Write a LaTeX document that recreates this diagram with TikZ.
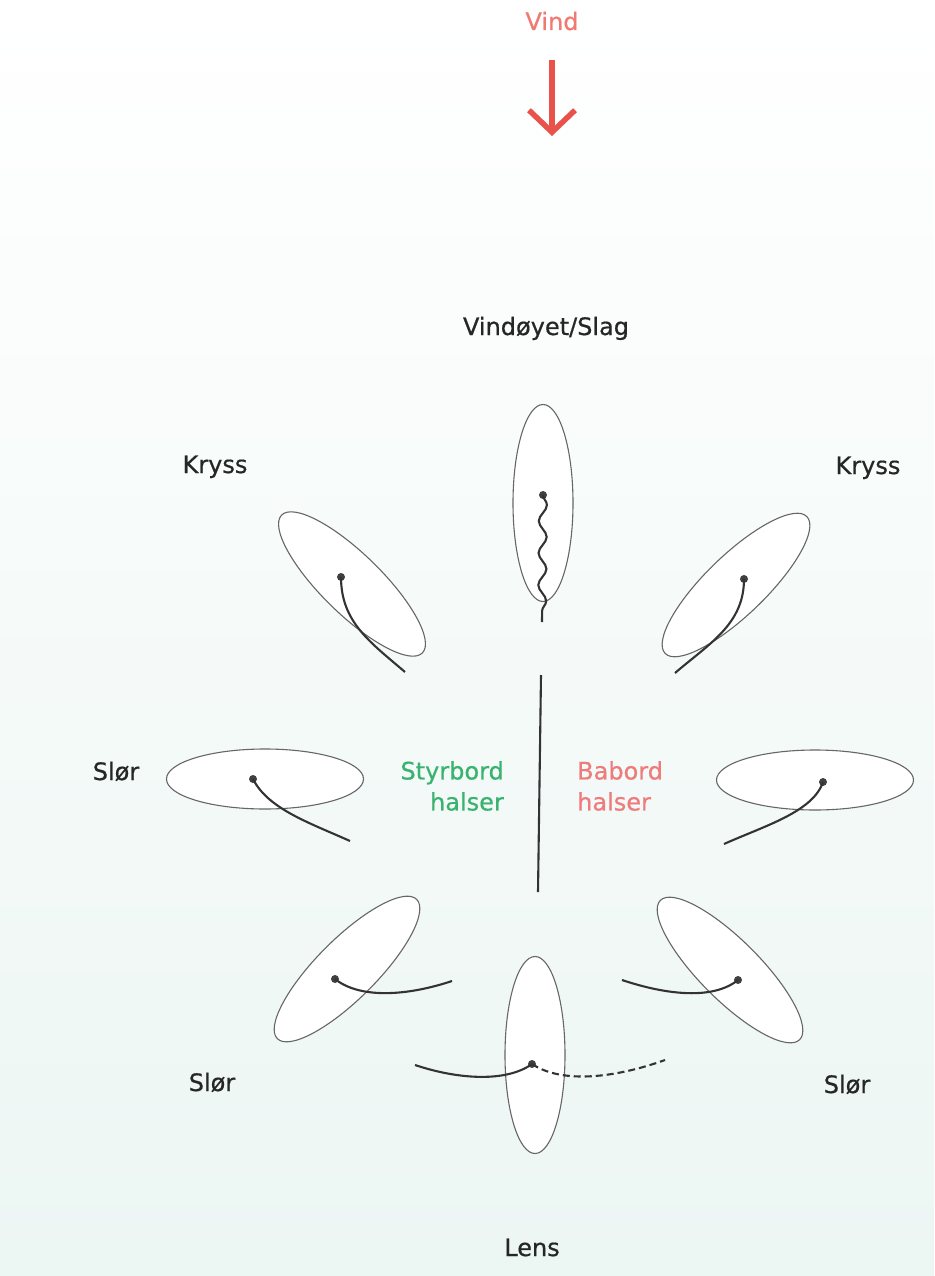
\documentclass[tikz,border=0pt]{standalone}
\usepackage{fontspec}
\setmainfont{DejaVu Sans}[UprightFeatures={FakeBold=0.6}]
\usepackage{xcolor}
\usetikzlibrary{arrows.meta, shapes.geometric, decorations.pathmorphing}

\definecolor{vindrod}{RGB}{232,82,74}
\definecolor{vindtekst}{RGB}{240,122,114}
\definecolor{styrbordgronn}{RGB}{58,178,112}
\definecolor{babordrod}{RGB}{238,124,124}
\definecolor{bakgrunn}{RGB}{236,246,243}

\begin{document}
\begin{tikzpicture}[
        x=1pt, y=-1pt,
        every node/.style={
            font=\fontsize{24}{31}\selectfont,
            inner sep=0pt
        },
        brett/.style={
            ellipse,
            draw=black!60,
            fill=white,
            line width=1.1pt,
            minimum width=197pt,
            minimum height=60pt
        },
        punkt/.style={
            circle,
            fill=black!75,
            minimum size=8pt
        },
        seil/.style={
            line width=2.1pt,
            draw=black!80
        },
        etikett/.style={
            anchor=base,
            text=black!85
        },
        vindpil/.style={
            -{Straight Barb[length=22pt,width=46pt]},
            line width=5.5pt,
            draw=vindrod
        }
    ]

    \fill[top color=white, bottom color=bakgrunn] (0,0) rectangle (934,1276);

    % vind
    \node[etikett, text=vindtekst] (vind) at (552,30) {Vind};
    \coordinate (vindfra) at (552,60);
    \coordinate (vindtil) at (552,136);
    \draw[vindpil] (vindfra) -- (vindtil);

    % brett
    \node[brett, rotate=90] (slag) at (543,503) {};
    \node[brett, rotate=-44.4] (krysssb) at (352,584) {};
    \node[brett, rotate=44] (kryssbb) at (736,585) {};
    \node[brett] (slorsb) at (265,779) {};
    \node[brett] (slorbb) at (815,780) {};
    \node[brett, rotate=45] (brlsb) at (347,969) {};
    \node[brett, rotate=-45] (brlbb) at (730,970) {};
    \node[brett, rotate=90] (lens) at (535,1055) {};

    % mast
    \node[punkt] (pslag) at (543,495) {};
    \node[punkt] (pkrysssb) at (341,577) {};
    \node[punkt] (pkryssbb) at (744,579) {};
    \node[punkt] (pslorsb) at (253,779) {};
    \node[punkt] (pslorbb) at (823,782) {};
    \node[punkt] (pbrlsb) at (335,979) {};
    \node[punkt] (pbrlbb) at (738,980) {};
    \node[punkt] (plens) at (532,1064) {};

    \coordinate (eslag) at (542,622);
    \coordinate (ekrysssb) at (405,672);
    \coordinate (ekryssbb) at (675,673);
    \coordinate (eslorsb) at (350,841);
    \coordinate (eslorbb) at (724,844);
    \coordinate (ebrlsb) at (452,981);
    \coordinate (ebrlbb) at (622,980);
    \coordinate (elenssb) at (415,1065);
    \coordinate (elensbb) at (665,1060);

    % seil
    \draw[seil, decorate, decoration={snake, segment length=32pt, amplitude=4pt}]
        (pslag.center) -- (eslag);
    \draw[seil] (pkrysssb.center) .. controls +(0,45) and +(-35,-30) .. (ekrysssb);
    \draw[seil] (pkryssbb.center) .. controls +(0,45) and +(35,-30) .. (ekryssbb);
    \draw[seil] (pslorsb.center) .. controls +(15,30) and +(-40,-18) .. (eslorsb);
    \draw[seil] (pslorbb.center) .. controls +(-10,30) and +(40,-18) .. (eslorbb);
    \draw[seil] (pbrlsb.center) .. controls +(25,20) and +(-45,15) .. (ebrlsb);
    \draw[seil] (pbrlbb.center) .. controls +(-25,20) and +(45,15) .. (ebrlbb);
    \draw[seil] (plens.center) .. controls +(-25,18) and +(45,15) .. (elenssb);
    \draw[seil, dash pattern=on 7pt off 4pt] (plens.center) .. controls +(30,20) and +(-50,18) .. (elensbb);

    % midtlinje
    \coordinate (midttopp) at (541,675);
    \coordinate (midtbunn) at (538,892);
    \draw[seil] (midttopp) -- (midtbunn);

    % tekster
    \node[etikett] (tslag) at (546,335) {Vindøyet/Slag};
    \node[etikett] (tkrysssb) at (215,473) {Kryss};
    \node[etikett] (tkryssbb) at (868,474) {Kryss};
    \node[etikett] (tslorsb) at (116,780) {Slør};
    \node[etikett] (tbrlsb) at (212,1091) {Slør};
    \node[etikett] (tbrlbb) at (847,1093) {Slør};
    \node[etikett] (tlens) at (532,1256) {Lens};

    \node[anchor=east, align=right, text=styrbordgronn] (styrbord) at (504,786) {Styrbord\\halser};
    \node[anchor=west, align=left, text=babordrod] (babord) at (577,786) {Babord\\halser};

\end{tikzpicture}
\end{document}
